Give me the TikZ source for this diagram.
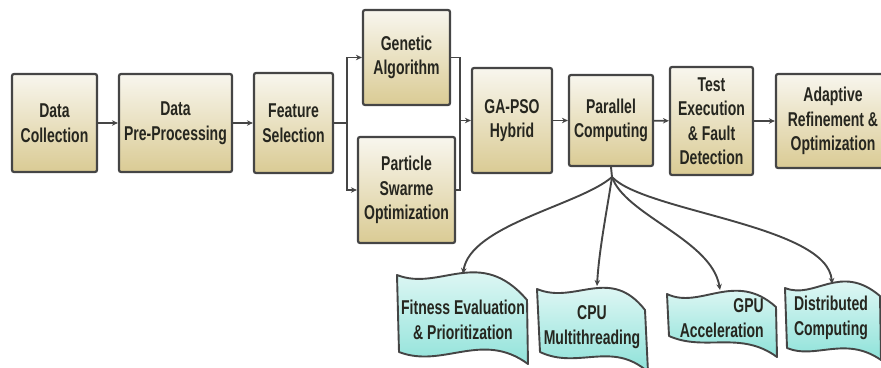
\documentclass[tikz,border=0pt]{standalone}
\usepackage{fontspec}
\newfontfamily\lblfont{Liberation Sans}[FakeStretch=0.7]
\usetikzlibrary{arrows.meta}

\definecolor{edge}{HTML}{454545}
\definecolor{ink}{HTML}{26261F}
\definecolor{beigeTop}{HTML}{F8F6EE}
\definecolor{beigeMid}{HTML}{F0EBD6}
\definecolor{beigeBot}{HTML}{DACB94}
\definecolor{cyanTop}{HTML}{F3FCFB}
\definecolor{cyanBot}{HTML}{8EE2D9}

\begin{document}
\begin{tikzpicture}[
  x=1pt, y=-1pt,
  lbl/.style={font=\lblfont\bfseries\fontsize{20}{24.5}\selectfont, text=ink, align=center, inner sep=0pt},
  stage/.style={lbl, draw=edge, line width=2.2pt, rounded corners=2pt,
    top color=beigeTop, middle color=beigeMid, bottom color=beigeBot},
  wave/.style={draw=edge, line width=1.9pt, line join=round,
    top color=cyanTop, bottom color=cyanBot},
  link/.style={draw=edge, line width=1.9pt},
  arr/.style={link, -{Stealth[length=6pt,width=5.5pt]}}
]
\useasboundingbox (0,0) rectangle (881,367);

% ---------- main pipeline ----------
\node[stage, minimum width=85pt,  minimum height=98pt]  (dc)    at (54.5,123)  {Data\\Collection};
\node[stage, minimum width=113pt, minimum height=98pt]  (dpp)   at (175.5,123) {Data\\Pre-Processing};
\node[stage, minimum width=79pt,  minimum height=100pt] (fs)    at (293.5,123) {Feature\\Selection};
\node[stage, minimum width=87pt,  minimum height=95pt]  (ga)    at (406.5,57.5) {Genetic\\Algorithm};
\node[stage, minimum width=97pt,  minimum height=106pt] (pso)   at (406.5,190) {Particle\\Swarme\\Optimization};
\node[stage, minimum width=80pt,  minimum height=105pt] (gapso) at (512,120.5) {GA-PSO\\Hybrid};
\node[stage, minimum width=84pt,  minimum height=91pt]  (pc)    at (611,120.5) {Parallel\\Computing};
\node[stage, minimum width=83pt,  minimum height=108pt] (te)    at (711.5,121) {Test\\Execution\\\& Fault\\Detection};
\node[stage, minimum width=114pt, minimum height=94pt]  (ar)    at (833,121)   {Adaptive\\Refinement \&\\Optimization};

% straight connectors
\draw[arr] (dc) -- (dpp);
\draw[arr] (dpp) -- (fs);
\coordinate (split) at (347,123);
\draw[link] (fs) -- (split);
\draw[arr] (split) |- (ga);
\draw[arr] (split) |- (pso);
\coordinate (merge) at (460,120.5);
\draw[link] (ga.east) -| (merge);
\draw[link] (pso.east) -| (merge);
\draw[arr] (merge) -- (gapso);
\draw[arr] (gapso) -- (pc);
\draw[arr] (pc) -- (te);
\draw[arr] (te) -- (ar);

% ---------- parallel computing back-ends ----------
\path[wave] (397,275) .. controls (440,292) and (480,245) .. (527,300)
  -- (528,364) .. controls (482,330) and (443,369) .. (399,352) -- cycle;
\path[wave] (537,289) .. controls (575,305) and (610,265) .. (645,310)
  -- (648,372) .. controls (612,340) and (578,370) .. (540,352) -- cycle;
\path[wave] (667,294) .. controls (700,310) and (735,270) .. (776,307)
  -- (777,357) .. controls (740,330) and (705,352) .. (669,336) -- cycle;
\path[wave] (785,288) .. controls (815,300) and (840,262) .. (880,296)
  -- (881,360) .. controls (845,335) and (815,360) .. (787,348) -- cycle;

\node[lbl] (fe)   at (463,320) {Fitness Evaluation\\\& Prioritization};
\node[lbl] (cpu)  at (592,327) {CPU\\Multithreading};
\node[lbl, anchor=east, align=right] (gpu) at (764,318) {GPU\\Acceleration};
\node[lbl] (dist) at (831,318) {Distributed\\Computing};

\coordinate (fe-in)   at (463,274);
\coordinate (cpu-in)  at (597,286);
\coordinate (gpu-in)  at (720,290);
\coordinate (dist-in) at (832,284);

\coordinate (hub) at (612,177);
\draw[link] (pc.south) -- (hub);
\draw[arr] (hub) .. controls (580,205) and (470,225) .. (fe-in);
\draw[arr] (hub) .. controls (607,210) and (599,250) .. (cpu-in);
\draw[arr] (hub) .. controls (625,215) and (712,240) .. (gpu-in);
\draw[arr] (hub) .. controls (645,212) and (828,225) .. (dist-in);
\end{tikzpicture}
\end{document}
